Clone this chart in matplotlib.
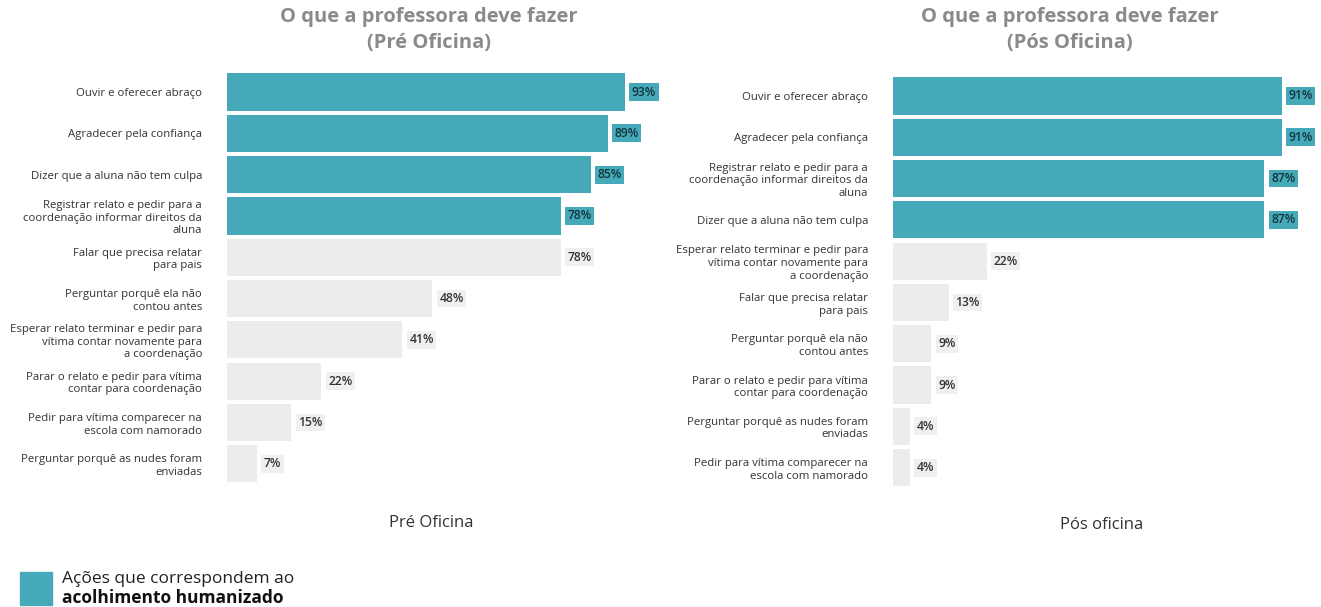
import matplotlib
matplotlib.use("Agg")
import matplotlib.pyplot as plt
from matplotlib.patches import Rectangle

plt.rcParams["font.family"] = ["Open Sans", "DejaVu Sans"]

TEAL = "#45a9ba"
GRAY = "#ececec"

pre_labels = [
    "Ouvir e oferecer abraço",
    "Agradecer pela confiança",
    "Dizer que a aluna não tem culpa",
    "Registrar relato e pedir para a\ncoordenação informar direitos da\naluna",
    "Falar que precisa relatar\npara pais",
    "Perguntar porquê ela não\ncontou antes",
    "Esperar relato terminar e pedir para\nvítima contar novamente para\na coordenação",
    "Parar o relato e pedir para vítima\ncontar para coordenação",
    "Pedir para vítima comparecer na\nescola com namorado",
    "Perguntar porquê as nudes foram\nenviadas",
]
pre_values = [93, 89, 85, 78, 78, 48, 41, 22, 15, 7]
pre_humanized = [True, True, True, True, False, False, False, False, False, False]

pos_labels = [
    "Ouvir e oferecer abraço",
    "Agradecer pela confiança",
    "Registrar relato e pedir para a\ncoordenação informar direitos da\naluna",
    "Dizer que a aluna não tem culpa",
    "Esperar relato terminar e pedir para\nvítima contar novamente para\na coordenação",
    "Falar que precisa relatar\npara pais",
    "Perguntar porquê ela não\ncontou antes",
    "Parar o relato e pedir para vítima\ncontar para coordenação",
    "Perguntar porquê as nudes foram\nenviadas",
    "Pedir para vítima comparecer na\nescola com namorado",
]
pos_values = [91, 91, 87, 87, 22, 13, 9, 9, 4, 4]
pos_humanized = [True, True, True, True, False, False, False, False, False, False]

W, H = 1321, 607


def draw_panel(ax, labels, values, humanized):
    colors = [TEAL if h else GRAY for h in humanized]
    y = range(len(values))
    ax.barh(y, values, height=0.9, color=colors)
    ax.set_xlim(0, 100)
    ax.set_ylim(len(values) - 0.5, -0.5)
    ax.set_yticks(list(y))
    ax.set_yticklabels(labels, fontsize=8.2, color="#333333", ha="right",
                       multialignment="right", linespacing=1.2)
    ax.tick_params(axis="y", length=0, pad=18)
    ax.set_xticks([])
    for s in ax.spines.values():
        s.set_visible(False)
    for i, (v, h) in enumerate(zip(values, humanized)):
        box = TEAL if h else "#f0f0f0"
        tc = "#12343a" if h else "#333333"
        ax.text(v + 1.6, i, f"{v}%", va="center", ha="left", fontsize=8.7,
                fontweight="semibold", color=tc,
                bbox=dict(boxstyle="square,pad=0.2", fc=box, ec="none"))


fig = plt.figure(figsize=(W / 100, H / 100), dpi=100)

ax1 = fig.add_axes([227 / W, 1 - 484.4 / H, 428 / W, 413 / H])
draw_panel(ax1, pre_labels, pre_values, pre_humanized)

ax2 = fig.add_axes([893 / W, 1 - 488.3 / H, 427 / W, 413 / H])
draw_panel(ax2, pos_labels, pos_values, pos_humanized)

title_kw = dict(ha="center", va="top", fontsize=14.5, fontweight="bold",
                color="#8a8a8a", linespacing=1.4)
fig.text(429 / W, 1 - 7 / H, "O que a professora deve fazer\n(Pré Oficina)", **title_kw)
fig.text(1070 / W, 1 - 7 / H, "O que a professora deve fazer\n(Pós Oficina)", **title_kw)

fig.text(431 / W, 1 - 523 / H, "Pré Oficina", ha="center", va="center",
         fontsize=12, color="#333333")
fig.text(1102 / W, 1 - 525 / H, "Pós oficina", ha="center", va="center",
         fontsize=12, color="#333333")

# legend
fig.add_artist(Rectangle((20 / W, 1 - 605 / H), 32 / W, 33 / H,
                         transform=fig.transFigure, color=TEAL))
fig.text(62 / W, 1 - 579 / H, "Ações que correspondem ao", ha="left",
         va="center", fontsize=12.5, color="#222222")
fig.text(62 / W, 1 - 598 / H, "acolhimento humanizado", ha="left",
         va="center", fontsize=12.5, fontweight="bold", color="#111111")

fig.savefig("out.png", dpi=100)
